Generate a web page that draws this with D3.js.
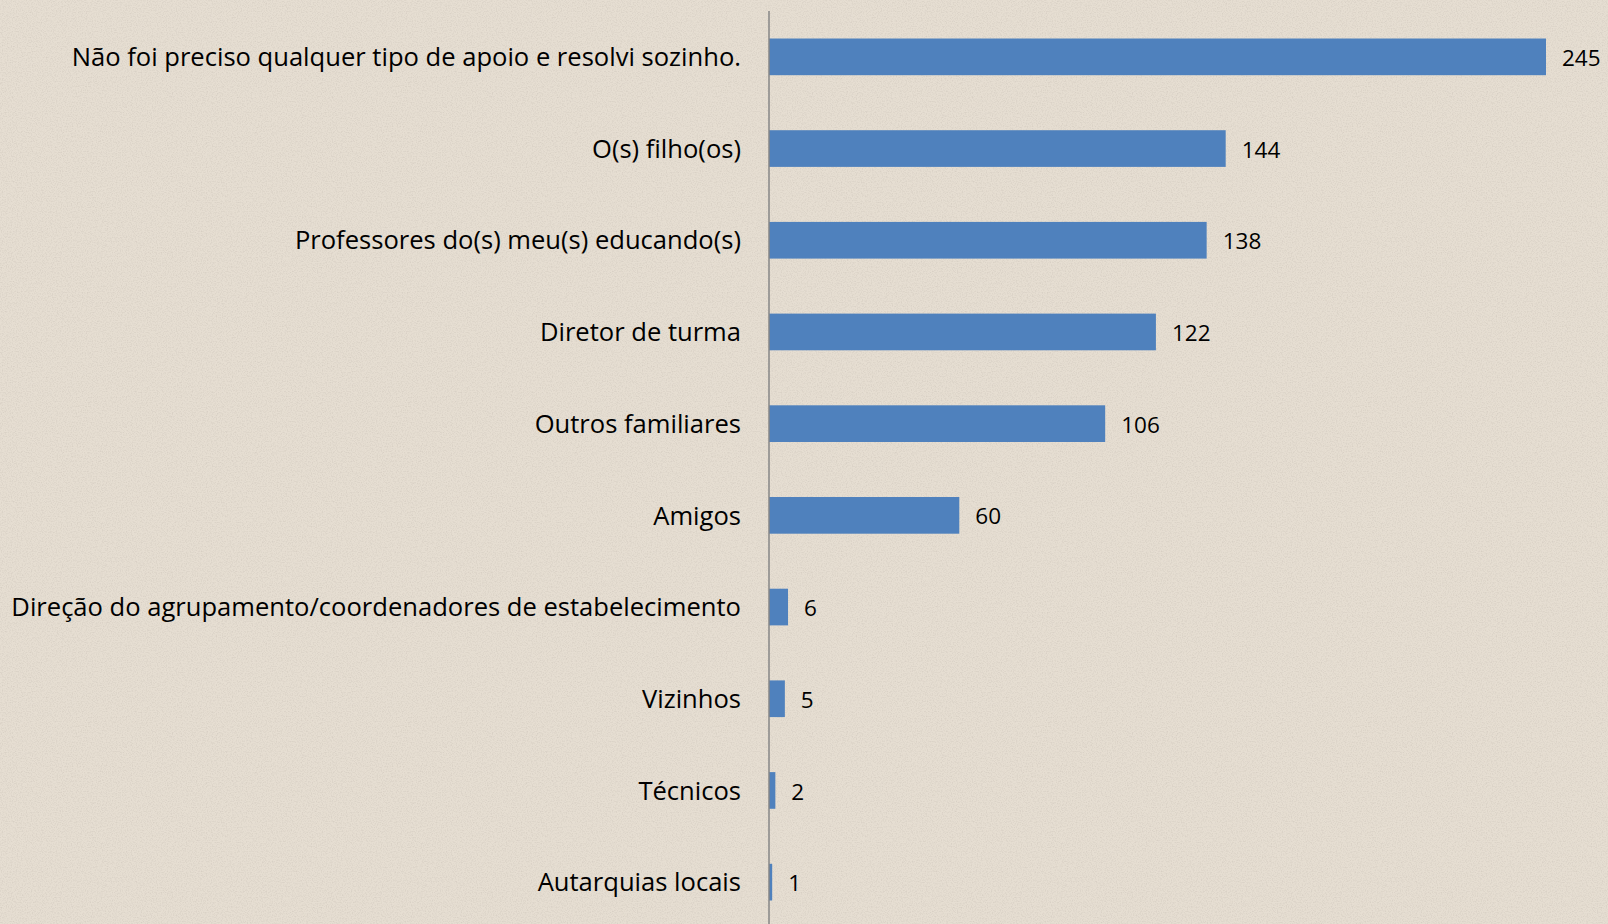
<!DOCTYPE html>
<html>
<head>
<meta charset="utf-8">
<script src="https://cdn.jsdelivr.net/npm/d3@7"></script>
<style>
  html, body { margin: 0; padding: 0; background: #e5ddd1; overflow: hidden; }
  svg { display: block; }
  text { font-family: 'Open Sans', sans-serif; fill: #000; }
</style>
</head>
<body>
<svg></svg>
<script>
let categories = [
  'Não foi preciso qualquer tipo de apoio e resolvi sozinho.',
  'O(s) filho(os)',
  'Professores do(s) meu(s) educando(s)',
  'Diretor de turma',
  'Outros familiares',
  'Amigos',
  'Direção do agrupamento/coordenadores de estabelecimento',
  'Vizinhos',
  'Técnicos',
  'Autarquias locais'
]

let values = [245, 144, 138, 122, 106, 60, 6, 5, 2, 1]

let width = 1608,
    height = 924

let svg = d3.select('svg').attr('width', width).attr('height', height)

// paper texture
let defs = svg.append('defs')
let filter = defs.append('filter').attr('id', 'paper')
  .attr('x', 0).attr('y', 0).attr('width', '100%').attr('height', '100%')
filter.append('feTurbulence')
  .attr('type', 'fractalNoise')
  .attr('baseFrequency', 0.8)
  .attr('numOctaves', 2)
  .attr('seed', 3)
  .attr('result', 'noise')
filter.append('feColorMatrix')
  .attr('in', 'noise')
  .attr('type', 'matrix')
  .attr('values', '0 0 0 0 0.55  0 0 0 0 0.50  0 0 0 0 0.44  0 0 0 -1.8 1.05')
  .attr('result', 'specks')
filter.append('feComposite').attr('in', 'specks').attr('in2', 'SourceGraphic').attr('operator', 'in')

svg.append('rect').attr('width', width).attr('height', height).attr('fill', '#e6ded2')
svg.append('rect').attr('width', width).attr('height', height)
  .attr('fill', '#e6ded2').attr('filter', 'url(#paper)').attr('opacity', 0.5)

let x0 = 769

let x = d3.scaleLinear()
  .domain([0, 245])
  .range([x0, 1546])

let y = d3.scaleBand()
  .domain(categories)
  .range([11, 928])
  .paddingInner(0.6)
  .paddingOuter(0.3)

let g = svg.append('g')

g.selectAll('rect.bar')
  .data(values)
  .enter().append('rect')
  .attr('class', 'bar')
  .attr('x', x(0))
  .attr('y', (d, i) => y(categories[i]))
  .attr('width', d => x(d) - x(0))
  .attr('height', y.bandwidth())
  .attr('fill', '#4f81bd')

g.selectAll('text.value')
  .data(values)
  .enter().append('text')
  .attr('class', 'value')
  .attr('x', d => x(d) + 16)
  .attr('y', (d, i) => y(categories[i]) + y.bandwidth() / 2 + 1)
  .attr('dy', '0.36em')
  .style('font-size', '22.5px')
  .text(d => d)

let yAxis = d3.axisLeft(y).tickSize(0).tickPadding(28)

let axisG = svg.append('g')
  .attr('transform', `translate(${x0},1)`)
  .call(yAxis)

axisG.select('.domain').remove()
let labels = axisG.selectAll('text')
  .style('font-size', '24px')
  .style('font-family', "'Open Sans', sans-serif")
  .attr('fill', '#000')

// fit the longest label to its width in the picture
let longest = d3.max(labels.nodes(), n => n.getComputedTextLength())
labels.style('font-size', (24 * 730 / longest) + 'px')

svg.append('line')
  .attr('x1', x0).attr('x2', x0)
  .attr('y1', 11).attr('y2', height)
  .attr('stroke', '#868686')
  .attr('stroke-width', 1.5)
</script>
</body>
</html>
